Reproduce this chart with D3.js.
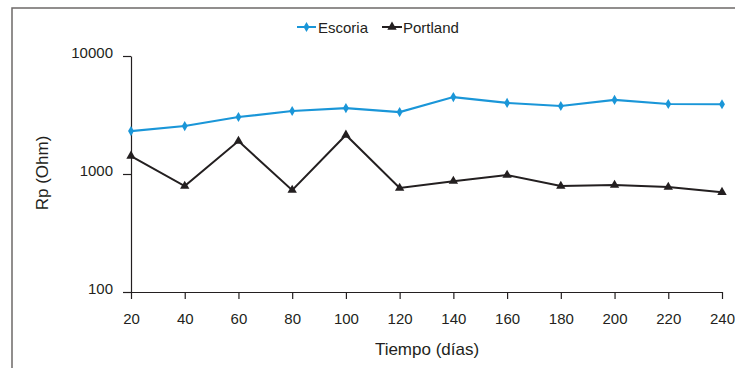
<!DOCTYPE html>
<html>
<head>
<meta charset="utf-8">
<script src="https://cdn.jsdelivr.net/npm/d3@7"></script>
<style>
  body { margin: 0; background: #fff; }
  svg { display: block; font-family: "Liberation Sans", Arial, sans-serif; }
</style>
</head>
<body>
<div id="chart"></div>
<script>
const days = [20, 40, 60, 80, 100, 120, 140, 160, 180, 200, 220, 240];
const escoria = [2310, 2550, 3040, 3420, 3620, 3350, 4490, 4000, 3770, 4240, 3920, 3900];
const portland = [1420, 790, 1900, 730, 2140, 760, 870, 980, 790, 805, 775, 700];
const yTicks = [100, 1000, 10000];

const width = 735, height = 368;
const svg = d3.select('#chart').append('svg')
  .attr('width', width)
  .attr('height', height);

// outer frame (top + left visible)
svg.append('rect')
  .attr('x', 12).attr('y', 8)
  .attr('width', 740).attr('height', 380)
  .attr('fill', 'none')
  .attr('stroke', '#6d6a68')
  .attr('stroke-width', 1.5);

const x = d3.scaleLinear().domain([20, 240]).range([131, 722]);
const y = d3.scaleLog().domain([100, 10000]).range([292, 56]);

const xAxis = svg.append('g')
  .attr('transform', `translate(0,${y(100)})`)
  .call(d3.axisBottom(x).tickValues(days).tickSize(7).tickPadding(14).tickSizeOuter(0));
xAxis.selectAll('text').style('font-size', '15px').attr('fill', '#231f20');

const yAxis = svg.append('g')
  .attr('transform', `translate(${x(20)},0)`)
  .call(d3.axisLeft(y).tickValues(yTicks).tickFormat(d3.format('d')).tickSize(8).tickPadding(10).tickSizeOuter(0));
yAxis.selectAll('text').style('font-size', '15px').attr('fill', '#231f20').attr('dy', '0.1em');

svg.selectAll('.domain, .tick line').attr('stroke', '#231f20').attr('stroke-width', 1.2);

// axis titles
svg.append('text')
  .attr('x', 427).attr('y', 355)
  .attr('text-anchor', 'middle')
  .style('font-size', '17px')
  .attr('fill', '#231f20')
  .text('Tiempo (días)');

svg.append('text')
  .attr('transform', 'translate(48,173) rotate(-90)')
  .attr('text-anchor', 'middle')
  .style('font-size', '17px')
  .attr('fill', '#231f20')
  .text('Rp (Ohm)');

const line = d3.line().x((d, i) => x(days[i])).y(d => y(d));

const blue = '#1a96d8', black = '#231f20';
const diamond = d3.symbol().type(d3.symbolDiamond).size(30);
const tri = d3.symbol().type(d3.symbolTriangle).size(38);

svg.append('path').datum(escoria)
  .attr('d', line).attr('fill', 'none')
  .attr('stroke', blue).attr('stroke-width', 2.2);
svg.selectAll('.pe').data(escoria).enter().append('path')
  .attr('d', diamond)
  .attr('transform', (d, i) => `translate(${x(days[i])},${y(d)})`)
  .attr('fill', blue);

svg.append('path').datum(portland)
  .attr('d', line).attr('fill', 'none')
  .attr('stroke', black).attr('stroke-width', 2);
svg.selectAll('.pp').data(portland).enter().append('path')
  .attr('d', tri)
  .attr('transform', (d, i) => `translate(${x(days[i])},${y(d)})`)
  .attr('fill', black);

// legend
const legend = svg.append('g').attr('transform', 'translate(0,27)');
legend.append('line').attr('x1', 297).attr('x2', 316).attr('stroke', blue).attr('stroke-width', 2);
legend.append('path').attr('d', diamond).attr('transform', 'translate(306.5,0)').attr('fill', blue);
legend.append('text').attr('x', 318).attr('y', 5.5).style('font-size', '15px').attr('fill', black).text('Escoria');
legend.append('line').attr('x1', 382).attr('x2', 402).attr('stroke', black).attr('stroke-width', 2);
legend.append('path').attr('d', tri).attr('transform', 'translate(392,0)').attr('fill', black);
legend.append('text').attr('x', 403).attr('y', 5.5).style('font-size', '15px').attr('fill', black).text('Portland');
</script>
</body>
</html>
